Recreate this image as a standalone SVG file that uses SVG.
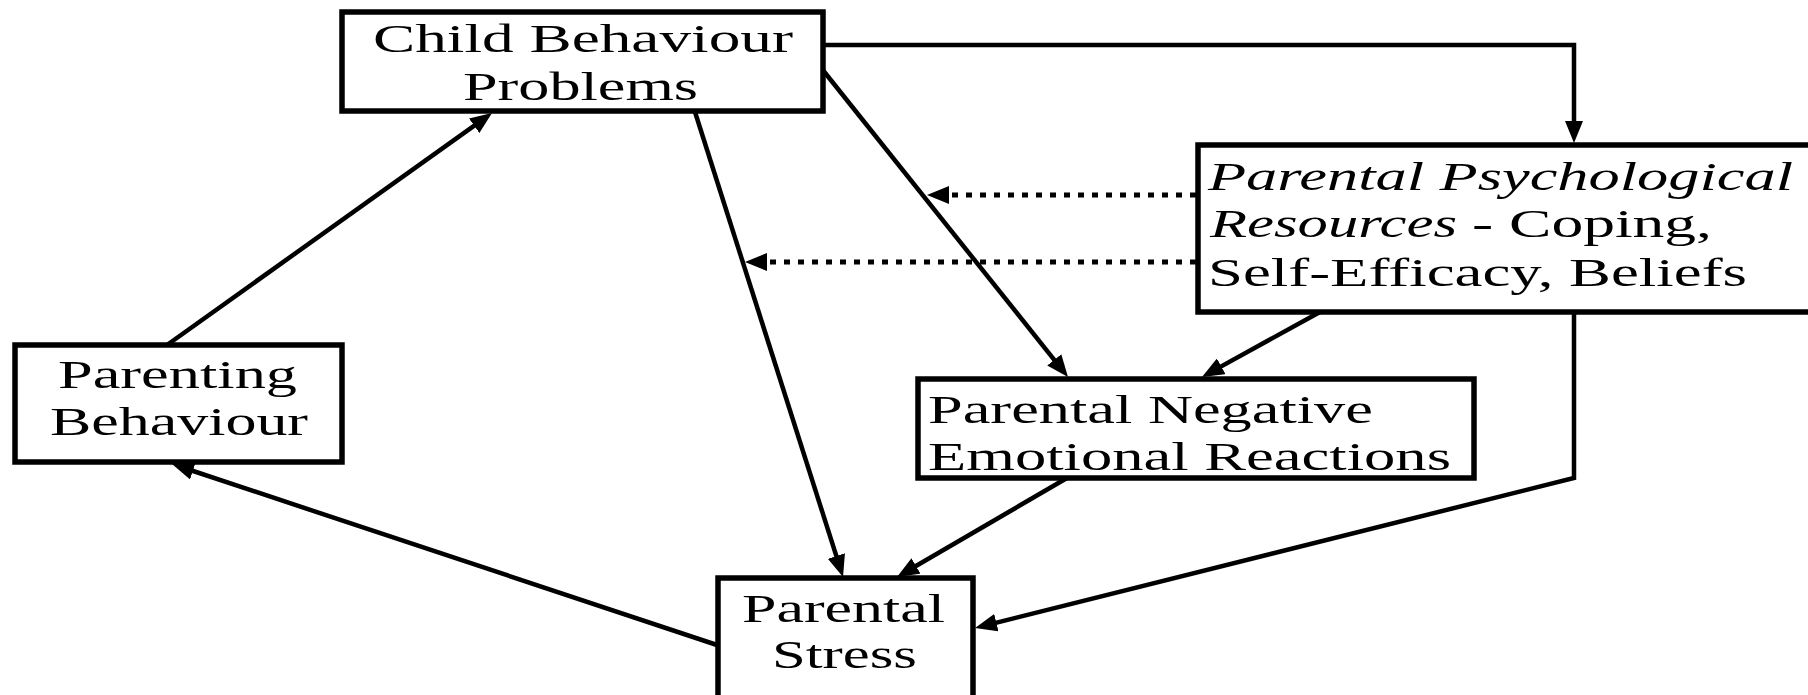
<svg xmlns="http://www.w3.org/2000/svg" width="1808" height="695" viewBox="0 0 1808 695">
<style>
.box{fill:#fff;stroke:#000;stroke-width:5.5}
.t{font-family:"Liberation Serif","Times New Roman",serif;font-size:41px;fill:#000}
.i{font-style:italic}
.c{fill:none;stroke:#000;stroke-width:4.5;stroke-linejoin:miter}
.d{fill:none;stroke:#000;stroke-width:5;stroke-dasharray:6 8}
</style>
<defs>
<marker id="ah" markerUnits="userSpaceOnUse" markerWidth="22" markerHeight="18" refX="14" refY="9" orient="auto">
<path d="M0,0 L22,9 L0,18 z" fill="#000"/>
</marker>
</defs>
<rect width="1808" height="695" fill="#fff"/>
<g id="connectors">
<path class="c" d="M822 45 H1574 V135" marker-end="url(#ah)"/>
<path class="c" d="M822 69 L1063 370.8" marker-end="url(#ah)"/>
<path class="c" d="M695 112 L840.6 569.4" marker-end="url(#ah)"/>
<path class="c" d="M167 345 L485.5 117.6" marker-end="url(#ah)"/>
<path class="c" d="M717 645 L179.6 466.5" marker-end="url(#ah)"/>
<path class="c" d="M1067 478 L903.9 573" marker-end="url(#ah)"/>
<path class="c" d="M1320 312 L1209 373.1" marker-end="url(#ah)"/>
<path class="c" d="M1574 312 V478 L982.8 626.1" marker-end="url(#ah)"/>
<path class="d" d="M1196 195 H935" marker-end="url(#ah)"/>
<path class="d" d="M1196 262 H753" marker-end="url(#ah)"/>
</g>
<g id="child-behaviour-problems">
<rect class="box" x="342" y="12" width="481" height="99"/>
<text class="t" x="373" y="52" textLength="420" lengthAdjust="spacingAndGlyphs">Child Behaviour</text>
<text class="t" x="463" y="100" textLength="235" lengthAdjust="spacingAndGlyphs">Problems</text>
</g>
<g id="parental-psychological-resources">
<rect class="box" x="1198" y="145" width="625" height="167"/>
<text class="t i" x="1208" y="190" textLength="585" lengthAdjust="spacingAndGlyphs">Parental Psychological</text>
<text class="t i" x="1210" y="237" textLength="247" lengthAdjust="spacingAndGlyphs">Resources</text>
<text class="t" x="1472" y="237" textLength="240" lengthAdjust="spacingAndGlyphs">- Coping,</text>
<text class="t" x="1208" y="286" textLength="539" lengthAdjust="spacingAndGlyphs">Self-Efficacy, Beliefs</text>
</g>
<g id="parenting-behaviour">
<rect class="box" x="15" y="345" width="327" height="117"/>
<text class="t" x="58" y="388" textLength="239" lengthAdjust="spacingAndGlyphs">Parenting</text>
<text class="t" x="50" y="435" textLength="258" lengthAdjust="spacingAndGlyphs">Behaviour</text>
</g>
<g id="parental-negative-emotional-reactions">
<rect class="box" x="918" y="379" width="556" height="99"/>
<text class="t" x="928" y="423" textLength="445" lengthAdjust="spacingAndGlyphs">Parental Negative</text>
<text class="t" x="928" y="470" textLength="523" lengthAdjust="spacingAndGlyphs">Emotional Reactions</text>
</g>
<g id="parental-stress">
<rect class="box" x="718" y="578" width="255" height="125"/>
<text class="t" x="742" y="622" textLength="203" lengthAdjust="spacingAndGlyphs">Parental</text>
<text class="t" x="772" y="668" textLength="145" lengthAdjust="spacingAndGlyphs">Stress</text>
</g>
</svg>
